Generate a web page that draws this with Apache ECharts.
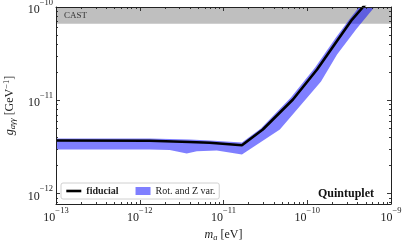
<!DOCTYPE html>
<html>
<head>
<meta charset="utf-8">
<script src="https://cdn.jsdelivr.net/npm/echarts@6/dist/echarts.min.js"></script>
<style>html,body{margin:0;padding:0;background:#fff;}#c{width:407px;height:243px;}</style>
</head>
<body>
<div id="c"></div>
<script>
// ---- data ----
const massFid = [1e-13, 1.31e-12, 3.95e-12, 6.85e-12, 1.66e-11, 2.95e-11, 6.75e-11, 1.31e-10, 2.33e-10, 3.43e-10, 4.64e-10, 5.94e-10];
const gFid    = [3.71e-12, 3.68e-12, 3.57e-12, 3.51e-12, 3.30e-12, 4.87e-12, 1.02e-11, 2.14e-11, 4.49e-11, 7.34e-11, 1.0e-10, 1.26e-10];

const massUpper = [1e-13, 1.31e-12, 3.95e-12, 6.85e-12, 1.66e-11, 2.79e-11, 6.38e-11, 1.24e-10, 2.20e-10, 3.24e-10, 4.39e-10];
const gUpper    = [3.89e-12, 3.89e-12, 3.80e-12, 3.71e-12, 3.53e-12, 4.99e-12, 1.07e-11, 2.25e-11, 4.71e-11, 7.53e-11, 1.06e-10];

const massLower = [1e-13, 1.31e-12, 2.28e-12, 3.64e-12, 4.80e-12, 8.32e-12, 1.66e-11, 4.71e-11, 1.46e-10, 2.27e-10, 3.82e-10, 6.28e-10, 7.82e-10];
const gLower    = [2.97e-12, 2.97e-12, 2.93e-12, 2.69e-12, 2.85e-12, 2.89e-12, 2.63e-12, 4.87e-12, 1.59e-11, 3.10e-11, 5.74e-11, 9.88e-11, 1.26e-10];

const castLimit = 6.6e-11;
const xRange = [1e-13, 1e-9];
const yRange = [7.74e-13, 1e-10];
const xMajor = [1e-13, 1e-12, 1e-11, 1e-10, 1e-9];
const yMajor = [1e-12, 1e-11, 1e-10];
const minorMult = [2, 3, 4, 5, 6, 7, 8, 9];

function minors(decades) {
  const out = [];
  decades.forEach(d => minorMult.forEach(k => out.push(k * d)));
  return out;
}
const xMinor = minors([1e-13, 1e-12, 1e-11, 1e-10]);
const yMinor = minors([1e-13, 1e-12, 1e-11]);

const FONT = 'Liberation Serif';
const AX = '#222';

function expLabel(v) {
  const e = Math.round(Math.log10(v));
  return '{b|10}{s|' + (e < 0 ? '\u2212' + (-e) : e) + '}';
}
const labelRich = {
  b: { fontFamily: FONT, fontSize: 12, color: '#222', lineHeight: 18, verticalAlign: 'bottom' },
  s: { fontFamily: FONT, fontSize: 8.5, color: '#222', lineHeight: 9, verticalAlign: 'top' }
};

function mkX(pos, major, showLine, showLabel) {
  return {
    type: 'log', logBase: 10, position: pos, min: xRange[0], max: xRange[1], z: 10,
    axisLine: { show: showLine, onZero: false, lineStyle: { color: AX, width: 1 } },
    axisTick: { show: true, inside: true, length: major ? 4 : 2, customValues: major ? xMajor : xMinor,
      lineStyle: { color: AX, width: 0.9 } },
    axisLabel: { show: showLabel, customValues: xMajor, formatter: expLabel, rich: labelRich, margin: 2 },
    splitLine: { show: false }, minorTick: { show: false }
  };
}
function mkY(pos, major, showLine, showLabel) {
  return {
    type: 'log', logBase: 10, position: pos, min: yRange[0], max: yRange[1], z: 10,
    axisLine: { show: showLine, onZero: false, lineStyle: { color: AX, width: 1 } },
    axisTick: { show: true, inside: true, length: major ? 4 : 2, customValues: major ? yMajor : yMinor,
      lineStyle: { color: AX, width: 0.9 } },
    axisLabel: { show: showLabel, customValues: yMajor, formatter: expLabel, rich: labelRich, margin: 3 },
    splitLine: { show: false }, minorTick: { show: false }
  };
}

const xAxes = [mkX('bottom', true, true, true), mkX('bottom', false, false, false), mkX('top', true, true, false), mkX('top', false, false, false)];
const yAxes = [mkY('left', true, true, true), mkY('left', false, false, false), mkY('right', true, true, false), mkY('right', false, false, false)];

xAxes[0].name = '{i|m}{sub|a}{n| [eV]}';
xAxes[0].nameLocation = 'middle';
xAxes[0].nameGap = 19;
xAxes[0].nameTextStyle = {
  rich: {
    i: { fontFamily: FONT, fontStyle: 'italic', fontSize: 12, color: '#222' },
    sub: { fontFamily: FONT, fontStyle: 'italic', fontSize: 8.5, color: '#222', padding: [5, 0, 0, 0] },
    n: { fontFamily: FONT, fontSize: 12, color: '#222' }
  }
};
yAxes[0].name = '{i|g}{sub|a\u03b3\u03b3}{n| [GeV}{sup|\u22121}{n|]}';
yAxes[0].nameLocation = 'middle';
yAxes[0].nameGap = 32;
yAxes[0].nameRotate = 90;
yAxes[0].nameTextStyle = {
  rich: {
    i: { fontFamily: FONT, fontStyle: 'italic', fontSize: 12, color: '#222' },
    sub: { fontFamily: FONT, fontStyle: 'italic', fontSize: 8.5, color: '#222', padding: [5, 0, 0, 0] },
    sup: { fontFamily: FONT, fontSize: 8.5, color: '#222', padding: [0, 0, 6, 0] },
    n: { fontFamily: FONT, fontSize: 12, color: '#222' }
  }
};

const chart = echarts.init(document.getElementById('c'), null, { renderer: 'canvas' });
chart.setOption({
  animation: false,
  backgroundColor: '#fff',
  grid: { left: 56, top: 7, width: 335, height: 197, containLabel: false, outerBoundsMode: 'none' },
  xAxis: xAxes,
  yAxis: yAxes,
  title: {
    text: 'Quintuplet', right: 28, top: 183,
    textStyle: { fontFamily: FONT, fontWeight: 'bold', fontSize: 12, color: '#111' }
  },
  legend: {
    left: 61, top: 183,
    orient: 'horizontal',
    itemWidth: 15, itemHeight: 8, itemGap: 17,
    padding: [3, 4, 3, 4],
    borderColor: '#d0d0d0', borderWidth: 1, borderRadius: 2,
    backgroundColor: 'rgba(255,255,255,0.85)',
    textStyle: { fontFamily: FONT, fontSize: 10, color: '#222' },
    selectedMode: false,
    data: [
      { name: 'fiducial', textStyle: { fontWeight: 'bold' }, itemStyle: { opacity: 0, borderWidth: 0 }, lineStyle: { width: 2.6, color: '#000' } },
      { name: 'Rot. and Z var.', icon: 'rect' }
    ]
  },
  series: [
    {
      name: 'CAST', type: 'line', data: [], z: 1,
      markArea: {
        silent: true,
        itemStyle: { color: '#bfbfbf' },
        label: { show: true, position: 'insideLeft', formatter: 'CAST', fontFamily: FONT, fontSize: 9, color: '#333', distance: 8 },
        data: [[{ xAxis: xRange[0], yAxis: castLimit }, { xAxis: xRange[1], yAxis: yRange[1] }]]
      }
    },
    {
      name: 'Rot. and Z var.', type: 'custom', z: 2, clip: true,
      xAxisIndex: 0, yAxisIndex: 0,
      itemStyle: { color: 'rgba(0,0,255,0.5)' },
      data: [[massUpper[0], gUpper[0]]],
      renderItem: function (params, api) {
        const pts = [];
        for (let i = 0; i < massUpper.length; i++) pts.push(api.coord([massUpper[i], gUpper[i]]));
        for (let i = massLower.length - 1; i >= 0; i--) pts.push(api.coord([massLower[i], gLower[i]]));
        return { type: 'polygon', shape: { points: pts }, style: { fill: 'rgba(0,0,255,0.5)' } };
      }
    },
    {
      name: 'fiducial', type: 'line', z: 3, xAxisIndex: 0, yAxisIndex: 0,
      showSymbol: false, symbol: 'none', clip: true,
      lineStyle: { color: '#000', width: 2.6 },
      itemStyle: { color: '#000' },
      data: massFid.map((m, i) => [m, gFid[i]])
    }
  ]
});
</script>
</body>
</html>
